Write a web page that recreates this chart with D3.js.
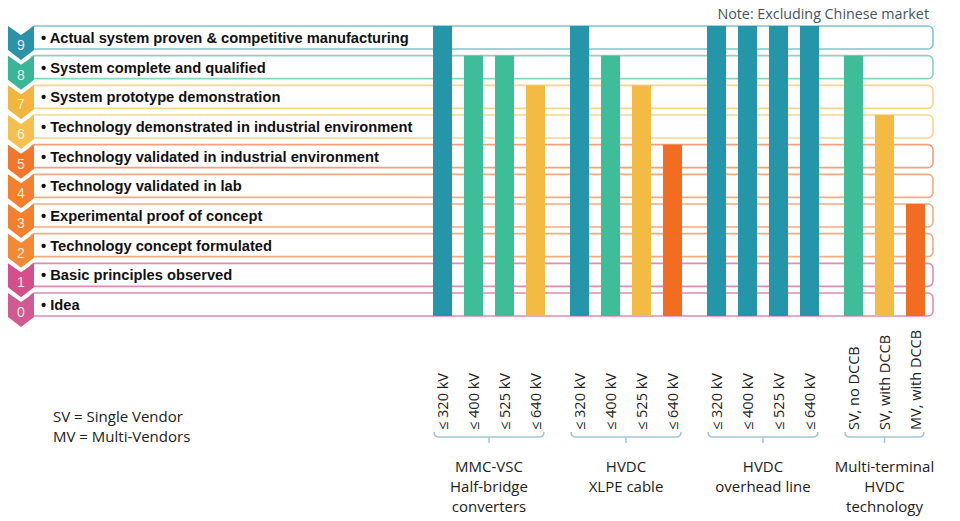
<!DOCTYPE html>
<html>
<head>
<meta charset="utf-8">
<script src="https://cdn.jsdelivr.net/npm/d3@7"></script>
<style>
  body { margin: 0; background: #fff; }
  svg { display: block; }
</style>
</head>
<body>
<div id="chart"></div>
<script>
var width = 960;
var height = 521;

// TRL scale, 0..9
var levels = [9, 8, 7, 6, 5, 4, 3, 2, 1, 0];
var levelText = [
  "Actual system proven & competitive manufacturing",
  "System complete and qualified",
  "System prototype demonstration",
  "Technology demonstrated in industrial environment",
  "Technology validated in industrial environment",
  "Technology validated in lab",
  "Experimental proof of concept",
  "Technology concept formulated",
  "Basic principles observed",
  "Idea"
];

var groups = ["mmc", "xlpe", "ohl", "mt"];
var groupNames = [
  ["MMC-VSC", "Half-bridge", "converters"],
  ["HVDC", "XLPE cable"],
  ["HVDC", "overhead line"],
  ["Multi-terminal", "HVDC", "technology"]
];
var categories = [
  ["\u2264 320 kV", "\u2264 400 kV", "\u2264 525 kV", "\u2264 640 kV"],
  ["\u2264 320 kV", "\u2264 400 kV", "\u2264 525 kV", "\u2264 640 kV"],
  ["\u2264 320 kV", "\u2264 400 kV", "\u2264 525 kV", "\u2264 640 kV"],
  ["SV, no DCCB", "SV, with DCCB", "MV, with DCCB"]
];
var values = [
  [9, 8, 8, 7],
  [9, 8, 7, 5],
  [9, 9, 9, 9],
  [8, 6, 3]
];

// colours per level
var fillColor = {9: "#2596aa", 8: "#3dbd98", 7: "#f4bb44", 6: "#f4bb44", 5: "#f26c22", 4: "#f26c22", 3: "#f26c22", 2: "#f26c22", 1: "#d64b82", 0: "#d64b82"};
var chevColor = {9: "#2a93a8", 8: "#3ab595", 7: "#f2b640", 6: "#f4c050", 5: "#f2772c", 4: "#f2802f", 3: "#f2802f", 2: "#f28a35", 1: "#d3508a", 0: "#d05a92"};
var lineColor = {9: "#7ec6d0", 8: "#88d5bd", 7: "#f7d68c", 6: "#f7d68c", 5: "#f3a17d", 4: "#f4ab80", 3: "#f4ab80", 2: "#f4ab80", 1: "#e08cb2", 0: "#e08cb2"};

var rowH = 23;
var y = d3.scaleLinear().domain([0, 9]).range([293, 26]);

var x0 = d3.scaleBand().domain(groups).range([427, 975]).padding(0);
var x1 = d3.scaleBand().domain([0, 1, 2, 3]).range([0, 124])
  .paddingInner(0.387).paddingOuter(0.194);

var svg = d3.select("#chart")
  .append("svg")
  .attr("width", width)
  .attr("height", height);

// level rows
var rows = svg.append("g").selectAll("g")
  .data(levels)
  .join("g")
  .attr("transform", function(d) { return "translate(0," + y(d) + ")"; });

rows.append("rect")
  .attr("x", 30)
  .attr("y", 0)
  .attr("width", 903)
  .attr("height", rowH)
  .attr("rx", 5)
  .attr("fill", "#fff")
  .attr("stroke", function(d) { return lineColor[d]; })
  .attr("stroke-width", 1.6);

// chevrons
rows.append("path")
  .attr("d", "M8,0 L21,9 L34,0 L34,24 L21,34 L8,24 Z")
  .attr("fill", function(d) { return chevColor[d]; });

rows.append("text")
  .attr("x", 21)
  .attr("y", 24)
  .attr("text-anchor", "middle")
  .attr("font-family", "Liberation Sans, Arial, sans-serif")
  .attr("font-size", "14px")
  .attr("fill", "#fff")
  .attr("fill-opacity", 0.85)
  .text(function(d) { return d; });

rows.append("text")
  .attr("x", 41)
  .attr("y", 17)
  .attr("font-family", "Liberation Sans, Arial, sans-serif")
  .attr("font-weight", "bold")
  .attr("font-size", "14.7px")
  .attr("fill", "#111")
  .text(function(d, i) { return "\u2022 " + levelText[i]; });

// bars
var bottom = y(0) + rowH;
var grp = svg.append("g").selectAll("g")
  .data(groups)
  .join("g")
  .attr("transform", function(d) { return "translate(" + x0(d) + ",0)"; });

grp.selectAll("rect")
  .data(function(d, i) { return values[i]; })
  .join("rect")
  .attr("x", function(d, j) { return x1(j); })
  .attr("y", function(d) { return y(d); })
  .attr("width", x1.bandwidth())
  .attr("height", function(d) { return bottom - y(d); })
  .attr("fill", function(d) { return fillColor[d]; });

// category labels, rotated
grp.selectAll("text.cat")
  .data(function(d, i) { return categories[i]; })
  .join("text")
  .attr("class", "cat")
  .attr("transform", function(d, j) {
    return "translate(" + (x1(j) + x1.bandwidth() / 2 + 5.5) + ",430) rotate(-90)";
  })
  .attr("font-family", "Open Sans, sans-serif")
  .attr("font-size", "14.5px")
  .attr("fill", "#222")
  .text(function(d) { return d; });

// braces
grp.append("path")
  .attr("d", function(d, i) {
    var a = x1(0) + 1;
    var b = x1(categories[i].length - 1) + x1.bandwidth() - 1;
    var m = (a + b) / 2;
    return "M" + a + ",432 Q" + a + ",437 " + (a + 5) + ",437 L" + (b - 5) + ",437 Q" + b + ",437 " + b + ",432"
      + " M" + m + ",437 L" + m + ",443";
  })
  .attr("fill", "none")
  .attr("stroke", "#a8c3d6")
  .attr("stroke-width", 1.5);

// group names
grp.append("text")
  .attr("x", function(d, i) {
    var a = x1(0);
    var b = x1(categories[i].length - 1) + x1.bandwidth();
    return (a + b) / 2;
  })
  .attr("text-anchor", "middle")
  .attr("font-family", "Open Sans, sans-serif")
  .attr("font-size", "15px")
  .attr("fill", "#222")
  .selectAll("tspan")
  .data(function(d, i) { return groupNames[i]; })
  .join("tspan")
  .attr("x", function() { return d3.select(this.parentNode).attr("x"); })
  .attr("y", function(d, k) { return 472 + k * 20; })
  .text(function(d) { return d; });

// legend and note
svg.append("text")
  .attr("x", 53)
  .attr("y", 422)
  .attr("font-family", "Open Sans, sans-serif")
  .attr("font-size", "15px")
  .attr("fill", "#222")
  .text("SV = Single Vendor");

svg.append("text")
  .attr("x", 53)
  .attr("y", 442)
  .attr("font-family", "Open Sans, sans-serif")
  .attr("font-size", "15px")
  .attr("fill", "#222")
  .text("MV = Multi-Vendors");

svg.append("text")
  .attr("x", 929)
  .attr("y", 19)
  .attr("text-anchor", "end")
  .attr("font-family", "Open Sans, sans-serif")
  .attr("font-size", "14.3px")
  .attr("fill", "#44546a")
  .text("Note: Excluding Chinese market");
</script>
</body>
</html>
